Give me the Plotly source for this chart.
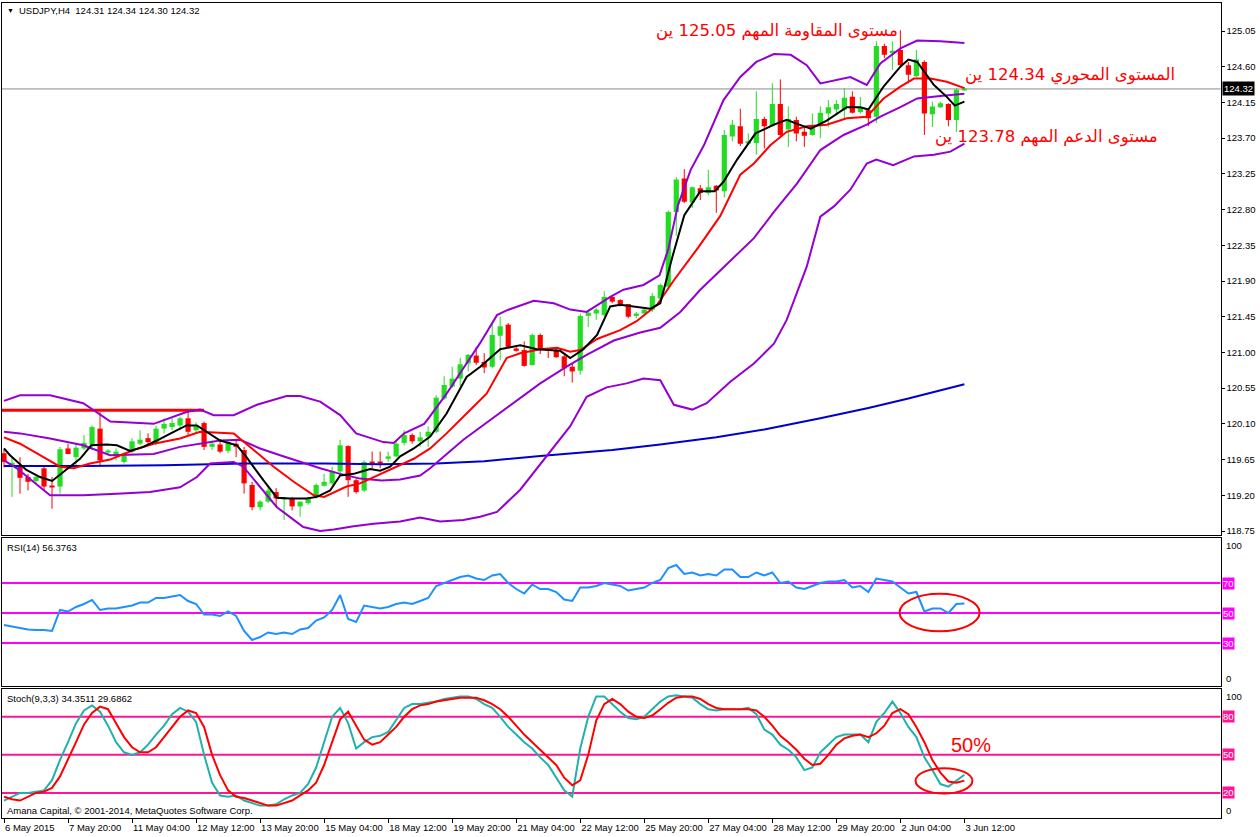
import plotly.graph_objects as go

# ---------------- data ----------------
bars = list(range(121))
opens = [119.73,119.58,119.58,119.43,119.38,119.54,119.32,119.31,119.79,119.68,
         119.79,119.84,120.04,119.75,119.69,119.62,119.75,119.85,119.92,119.85,
         120.04,120.06,120.08,120.17,120.02,120.11,119.81,119.84,119.76,119.85,
         119.77,119.33,119.05,119.12,119.24,119.15,119.16,119.06,119.10,119.18,
         119.32,119.35,119.50,119.82,119.39,119.26,119.62,119.62,119.66,119.69,
         119.86,119.96,119.88,119.94,120.00,120.42,120.57,120.67,120.86,120.96,
         120.88,120.82,121.21,121.35,121.05,121.03,120.84,121.22,121.04,121.03,
         120.95,120.82,120.77,121.46,121.49,121.47,121.70,121.66,121.61,121.46,
         121.49,121.54,121.68,121.83,122.77,123.19,122.89,123.07,123.01,123.10,
         123.03,123.72,123.85,123.64,123.64,123.94,123.85,124.13,123.81,123.93,
         123.78,123.74,123.85,124.01,124.06,124.06,124.22,124.03,124.05,123.97,
         124.86,124.77,124.81,124.62,124.48,124.66,124.00,124.09,124.13,123.93,
         124.31]
highs = [119.78,119.68,119.68,119.47,119.45,119.56,119.43,119.81,119.85,119.85,
         119.96,120.08,120.25,119.78,119.79,119.74,119.92,120.02,119.98,120.08,
         120.17,120.17,120.19,120.27,120.12,120.13,119.89,119.89,119.89,119.89,
         119.81,119.37,119.14,119.31,119.29,119.18,119.18,119.12,119.18,119.35,
         119.47,119.56,119.90,119.83,119.41,119.64,119.75,119.75,119.75,119.89,
         120.02,119.98,120.00,120.07,120.46,120.70,120.82,120.93,120.98,121.07,
         120.99,121.37,121.45,121.37,121.09,121.14,121.24,121.24,121.05,121.05,
         120.97,120.86,121.49,121.54,121.56,121.77,121.72,121.67,121.61,121.51,
         121.56,121.75,121.87,122.79,123.21,123.31,123.09,123.11,123.30,123.11,
         123.80,123.93,124.07,123.76,124.29,123.97,124.39,124.44,124.10,123.97,
         123.84,124.01,124.10,124.18,124.18,124.33,124.29,124.22,124.08,124.92,
         124.89,124.92,125.06,124.66,124.81,124.68,124.16,124.16,124.14,124.33,
         124.34]
lows = [119.55,119.18,119.22,119.26,119.35,119.26,119.03,119.22,119.72,119.58,
        119.77,119.77,119.58,119.72,119.64,119.60,119.73,119.83,119.83,119.83,
        119.98,120.02,120.02,119.96,119.98,119.77,119.77,119.73,119.73,119.68,
        119.22,119.01,119.01,119.10,119.05,118.89,119.01,118.93,119.08,119.16,
        119.31,119.33,119.45,119.18,119.22,119.24,119.54,119.54,119.62,119.68,
        119.83,119.85,119.81,119.81,119.98,120.40,120.55,120.57,120.76,120.84,
        120.74,120.80,120.90,121.05,121.01,120.82,120.84,120.98,120.93,120.93,
        120.70,120.62,120.72,121.32,121.41,121.45,121.62,121.58,121.43,121.43,
        121.48,121.51,121.66,121.79,122.47,122.88,122.82,122.92,122.98,122.76,
        122.95,123.66,123.60,123.63,123.49,123.57,123.85,123.72,123.59,123.66,
        123.59,123.73,123.70,123.84,123.99,123.95,124.01,124.01,123.85,123.89,
        124.71,124.56,124.60,124.39,124.47,123.74,123.84,124.08,123.85,123.78,
        124.30]
closes = [119.62,119.61,119.42,119.37,119.43,119.31,119.31,119.78,119.72,119.80,
          119.86,120.06,119.64,119.76,119.75,119.73,119.88,119.90,119.87,120.04,
          120.10,120.11,120.17,120.00,120.07,119.81,119.85,119.75,119.87,119.81,
          119.35,119.05,119.12,119.26,119.16,119.17,119.06,119.12,119.16,119.33,
          119.37,119.50,119.83,119.39,119.24,119.62,119.61,119.61,119.69,119.85,
          119.96,119.88,119.93,120.00,120.43,120.59,120.67,120.85,120.97,120.87,
          120.81,121.22,121.33,121.07,121.02,120.83,121.22,121.04,121.03,120.94,
          120.80,120.76,121.46,121.50,121.54,121.70,121.64,121.60,121.45,121.49,
          121.54,121.71,121.85,122.77,123.18,122.90,123.08,123.01,123.08,123.04,
          123.74,123.87,123.63,123.66,123.94,123.85,124.13,123.74,123.94,123.76,
          123.73,123.85,124.02,124.09,124.13,124.21,124.02,124.09,123.95,124.86,
          124.75,124.80,124.62,124.50,124.69,124.01,124.10,124.14,123.93,124.31,
          124.32]

# indicator lines on the price chart (bar position, value)
bb_upper_x = [0,2,5.75,9.9,13.3,18.7,22.8,24.5,26.2,28.7,31.6,35.3,37,39.5,42,44,47.4,48.7,50,52.5,53.2,
              55.3,57,59.5,61.6,62.8,66.2,68.7,70.75,72.8,75.75,77.4,79.9,81.9,83,84.2,85.8,87.5,89.9,
              92,94,96.2,98.3,100.3,102,103.7,105.75,107.8,109.5,112,114.1,117,120]
bb_upper_y = [120.39,120.46,120.46,120.36,120.13,120.10,120.25,120.28,120.21,120.21,120.34,120.45,120.45,
              120.38,120.21,119.98,119.87,119.86,119.98,120.10,120.19,120.48,120.74,121.12,121.47,121.53,
              121.65,121.62,121.54,121.51,121.70,121.79,121.85,121.97,122.30,122.85,123.30,123.62,124.18,
              124.47,124.66,124.76,124.75,124.62,124.39,124.43,124.47,124.37,124.64,124.83,124.93,124.92,124.90]
bb_mid_x = [0,2,5.75,9.9,13.25,18.7,22,24.5,27,29.5,32,34.5,37,39.5,42,44.5,47.2,49.5,52,53.25,57.4,
            60.75,63.7,67,70.3,72.8,76.2,79.5,82,84.5,87,90.75,93.7,96.2,99.1,102,104.9,107.8,109.5,
            112,114.1,117,120]
bb_mid_y = [120.00,119.98,119.915,119.83,119.705,119.72,119.81,119.85,119.89,119.90,119.79,119.705,
            119.62,119.54,119.47,119.41,119.385,119.40,119.45,119.54,119.90,120.15,120.36,120.61,120.82,
            120.97,121.15,121.25,121.31,121.51,121.79,122.16,122.44,122.77,123.13,123.55,123.74,123.87,
            123.97,124.09,124.20,124.23,124.26]
bb_lower_x = [0,1.6,5.75,9.9,14.1,18.25,22,24.1,25.75,28.7,29.9,32,34.1,36.2,37.4,39.5,41.2,43.7,46.2,
              49.5,52,54.5,57.4,59.5,61.6,64.5,67.8,70.75,72.8,75.3,77.8,79.9,82,83.7,86,87.8,90.75,
              93.7,96.2,97.8,100.3,102,103.7,105.75,107.8,109,111.1,113.7,116.2,118.25,120]
bb_lower_y = [119.64,119.54,119.20,119.20,119.22,119.24,119.30,119.43,119.60,119.62,119.56,119.31,119.05,
              118.89,118.80,118.75,118.77,118.81,118.84,118.87,118.92,118.87,118.89,118.93,118.99,119.27,
              119.69,120.07,120.44,120.56,120.61,120.67,120.65,120.34,120.28,120.36,120.63,120.86,121.11,
              121.41,122.08,122.71,122.84,123.05,123.38,123.43,123.36,123.47,123.49,123.53,123.63]
ma_red_x = [0,2,4.5,7,8.7,10.75,13.25,16.2,18.7,22,24.5,27,28.7,31.2,33.7,36.2,38.7,40,41.2,42.8,44.5,
            46.2,48.7,51.2,53.25,55.3,57.8,60.3,62.8,64.5,67,69.1,70.75,72,74.1,77,79,81.6,83.7,86.8,
            89.5,92,93.7,95.75,97.8,100.3,102.8,105.3,107.8,109.9,112,113.7,115.75,117.8,120]
ma_red_y = [119.93,119.85,119.705,119.56,119.54,119.60,119.65,119.77,119.85,119.915,120.00,119.99,119.98,
            119.77,119.56,119.37,119.20,119.18,119.24,119.31,119.35,119.43,119.55,119.66,119.79,119.98,
            120.23,120.48,120.93,120.99,121.04,121.06,121.01,121.03,121.17,121.28,121.39,121.60,121.91,
            122.33,122.72,123.24,123.38,123.61,123.78,123.85,123.87,123.95,123.97,124.20,124.35,124.45,
            124.45,124.41,124.33]
ma_black_x = [0,0.75,2.8,4.5,6,7.8,9.5,10.9,12.8,14.1,15.75,17.4,19.1,21.2,22.8,24.1,25.3,27,29.1,30.3,
              32.4,34.1,35.75,37.8,39.1,40.75,42,43.7,45,45.75,47,48.25,49.5,51.2,53.25,55.3,57.8,59.5,
              62,64.5,66.6,69.5,70.75,72.4,74.1,75.75,77,79,80.75,82,83.5,85,87,88.8,89.9,91.6,93.9,
              96.2,97.8,99.1,100.8,102.8,105.3,107,108,109.9,112,113,114.1,116.2,117.8,118.8,120]
ma_black_y = [119.79,119.705,119.52,119.43,119.38,119.52,119.66,119.83,119.84,119.83,119.76,119.81,119.89,
              120.00,120.08,120.08,120.00,119.89,119.83,119.68,119.39,119.17,119.16,119.16,119.18,119.26,
              119.45,119.47,119.51,119.53,119.51,119.56,119.69,119.79,119.94,120.23,120.69,120.82,121.04,
              121.09,121.04,121.02,120.93,121.04,121.22,121.58,121.60,121.57,121.55,121.62,122.20,122.73,
              123.03,123.03,123.15,123.43,123.76,123.87,123.93,123.88,123.82,123.92,124.09,124.09,124.06,
              124.35,124.60,124.69,124.66,124.37,124.22,124.11,124.16]
ma_blue_x = [0,10,20,30,40,47,54,60,67,76,82,89,95,102,108,113,120]
ma_blue_y = [119.57,119.57,119.58,119.60,119.60,119.59,119.60,119.63,119.695,119.77,119.84,119.93,
             120.03,120.17,120.30,120.42,120.60]
hline_level = 120.27
hline_bars = [-0.25, 25.0]

rsi = [42,41,40,39,38.7,38.7,38,52,51,54,56,58.7,52,53,53,54,55,57,57,60,
       60,61,62,58,56,49,49,48,51,48,38,32,34,37,36,37,36,39,40,45,
       47,52,62,46,44,55,54,53,54,56,57,56,58,60,68,70,72,74,75,73,
       72,75,76,70,66,63,69,66,66,64,59,58,67,67,68,70,69,68,65,66,
       67,70,72,80,82,76,77,75,76,75,79,79,74,74,77,75,77,70,71,67,
       66,68,70,71,71,72,67,68,64,73,72,71,67,63,64,51,53,53,50,56,56.38]
stoch_k = [14,17,20,20,21,22,30,46,60,75,85,89,84,73,60,52,50,52,58,66,
           73,82,87,84,76,50,28,18,17,18,14,12,10,10,11,15,18,20,27,40,
           60,80,87,75,55,60,64,65,68,78,87,90,90,91,92,94,95,96,96,94,
           90,87,80,72,66,60,55,48,42,32,22,17,55,80,96,96,90,84,79,78,
           80,86,92,96,97,96,95,90,86,85,86,86,86,87,82,70,66,58,54,48,
           38,40,52,58,64,66,66,66,60,76,83,92,83,72,64,48,38,27,25,30,34.35]
stoch_d = [17,15,14,17,20,21,24,33,46,60,74,83,88,86,75,64,56,52,52,56,
           64,72,80,85,83,72,50,34,22,17,16,14,12,10,10,12,14,18,22,28,
           42,60,78,84,73,62,58,60,66,72,80,86,89,90,92,93,94,95,95,95,
           93,90,86,80,73,66,60,54,48,42,32,26,30,50,77,90,94,90,84,80,
           79,81,86,91,95,96,96,94,90,87,86,86,86,86,85,80,73,65,60,54,
           47,42,43,50,58,63,65,66,64,67,73,83,86,82,72,60,46,36,29,28,29.69]
rsi_levels = [70, 50, 30]
stoch_levels = [80, 50, 20]
scale_labels = [100, 0]

price_ticks = [118.75,119.20,119.65,120.10,120.55,121.00,121.45,121.90,122.35,
               122.80,123.25,123.70,124.15,124.60,125.05]
date_tick_bars = [0,8,16,24,32,40,48,56,64,72,80,88,96,104,112,120]
date_tick_labels = ["6 May 2015","7 May 20:00","11 May 04:00","12 May 12:00","13 May 20:00",
                    "15 May 04:00","18 May 12:00","19 May 20:00","21 May 04:00","22 May 12:00",
                    "25 May 20:00","27 May 04:00","28 May 12:00","29 May 20:00","2 Jun 04:00",
                    "3 Jun 12:00"]
header_text = "USDJPY,H4  124.31 124.34 124.30 124.32"
rsi_text = "RSI(14) 56.3763"
stoch_text = "Stoch(9,3,3) 34.3511 29.6862"
copyright_text = "Amana Capital, © 2001-2014, MetaQuotes Software Corp."
notes = ["مستوى المقاومة المهم 125.05 ين",
         "المستوى المحوري 124.34 ين",
         "مستوى الدعم المهم 123.78 ين"]
note_stoch = "50%"
rsi_ellipse = dict(x0=111.9, x1=121.9, y0=37.8, y1=62.8)
stoch_ellipse = dict(x0=113.9, x1=121.0, y0=19.5, y1=39.5)

# ---------------- styling ----------------
W, H = 1260, 837
GREEN = "#22DD22"
RED = "#FF0000"
PURPLE = "#9400D3"
MAGENTA = "#FF00FF"
PINK = "#FF1493"
FONT = "Liberation Sans, DejaVu Sans, sans-serif"
AFONT = "DejaVu Sans"
XDOM = [2 / W, 1220.5 / W]


def pdom(top_px, bot_px):
    return [1 - bot_px / H, 1 - top_px / H]


fig = go.Figure()

up = [i for i in bars if closes[i] >= opens[i]]
dn = [i for i in bars if closes[i] < opens[i]]


def wick(idx):
    xs, ys = [], []
    for i in idx:
        xs += [i, i, None]
        ys += [lows[i], highs[i], None]
    return xs, ys


for idx, col in ((up, GREEN), (dn, RED)):
    wx, wy = wick(idx)
    fig.add_trace(go.Scatter(x=wx, y=wy, mode="lines", line=dict(color=col, width=1),
                             xaxis="x", yaxis="y", hoverinfo="skip"))
    fig.add_trace(go.Bar(x=idx,
                         y=[max(abs(closes[i] - opens[i]), 0.008) for i in idx],
                         base=[min(opens[i], closes[i]) for i in idx],
                         width=0.65, marker=dict(color=col, line=dict(width=0)),
                         xaxis="x", yaxis="y"))

fig.add_trace(go.Scatter(x=hline_bars, y=[hline_level, hline_level], mode="lines",
                         line=dict(color=RED, width=3), xaxis="x", yaxis="y"))
fig.add_trace(go.Scatter(x=ma_blue_x, y=ma_blue_y, mode="lines",
                         line=dict(color="#0000CD", width=2), xaxis="x", yaxis="y"))
for xs, ys in ((bb_upper_x, bb_upper_y), (bb_mid_x, bb_mid_y), (bb_lower_x, bb_lower_y)):
    fig.add_trace(go.Scatter(x=xs, y=ys, mode="lines", line=dict(color=PURPLE, width=2),
                             xaxis="x", yaxis="y"))
fig.add_trace(go.Scatter(x=ma_red_x, y=ma_red_y, mode="lines", line=dict(color=RED, width=2),
                         xaxis="x", yaxis="y"))
fig.add_trace(go.Scatter(x=ma_black_x, y=ma_black_y, mode="lines",
                         line=dict(color="#000000", width=2), xaxis="x", yaxis="y"))

fig.add_trace(go.Scatter(x=bars, y=rsi, mode="lines", line=dict(color="#1E90FF", width=2),
                         xaxis="x2", yaxis="y2"))
fig.add_trace(go.Scatter(x=bars, y=stoch_k, mode="lines", line=dict(color="#20B2AA", width=2),
                         xaxis="x3", yaxis="y3"))
fig.add_trace(go.Scatter(x=bars, y=stoch_d, mode="lines", line=dict(color=RED, width=2),
                         xaxis="x3", yaxis="y3"))

shapes = []
annotations = []


def label(text, x_px, y, yref="paper", xanchor="left", yanchor="middle", size=9.5,
          color="black", family=FONT, **kw):
    annotations.append(dict(text=text, xref="paper", x=x_px / W, xanchor=xanchor, yref=yref,
                            y=(1 - y / H) if yref == "paper" else y, yanchor=yanchor,
                            showarrow=False, font=dict(color=color, size=size, family=family), **kw))


shapes.append(dict(type="line", xref="x domain", x0=0, x1=1, yref="y", y0=closes[-1], y1=closes[-1],
                   line=dict(color="#8C8C8C", width=1), layer="below"))
for v in rsi_levels:
    shapes.append(dict(type="line", xref="x2 domain", x0=0, x1=1, yref="y2", y0=v, y1=v,
                       line=dict(color=MAGENTA, width=2), layer="below"))
    label(str(v), 1222, v, yref="y2", color="white", bgcolor=MAGENTA, borderpad=0)
for v in stoch_levels:
    shapes.append(dict(type="line", xref="x3 domain", x0=0, x1=1, yref="y3", y0=v, y1=v,
                       line=dict(color=PINK, width=2), layer="below"))
    label(str(v), 1222, v, yref="y3", color="white", bgcolor=PINK, borderpad=0)
for yref in ("y2", "y3"):
    for v, anc in zip(scale_labels, ("top", "bottom")):
        label(str(v), 1224, v / 100, yref=yref + " domain", yanchor=anc)

shapes.append(dict(type="circle", xref="x2", yref="y2", line=dict(color=RED, width=2), **rsi_ellipse))
shapes.append(dict(type="circle", xref="x3", yref="y3", line=dict(color=RED, width=2), **stoch_ellipse))

label(f"{closes[-1]:.2f}", 1222, closes[-1], yref="y", color="white", bgcolor="black", borderpad=1)
label("▼", 5, 11, size=7)
label(header_text, 17, 11)
label(rsi_text, 5, 547)
label(stoch_text, 5, 698)
label(copyright_text, 5, 810)

# notes: right edge (px) and vertical centre (px)
note_pos = [(900, 31), (1177, 75), (1160, 137)]
for txt, (xr, yc) in zip(notes, note_pos):
    label(txt, xr, yc, xanchor="right", size=16.5, color=RED, family=AFONT)
label(note_stoch, 971, 745, xanchor="center", size=20, color=RED)

axis_common = dict(showline=True, mirror=True, linecolor="black", linewidth=1, showgrid=False,
                   zeroline=False, automargin=False)
fig.update_layout(
    width=W, height=H, margin=dict(l=0, r=0, t=0, b=0, autoexpand=False),
    paper_bgcolor="white", plot_bgcolor="white", showlegend=False, barmode="overlay",
    font=dict(family=FONT, size=9.5, color="black"),
    xaxis=dict(domain=XDOM, range=[-0.25, 152], anchor="y", showticklabels=False, ticks="",
               **axis_common),
    xaxis2=dict(domain=XDOM, matches="x", anchor="y2", showticklabels=False, ticks="", **axis_common),
    xaxis3=dict(domain=XDOM, matches="x", anchor="y3", tickmode="array", tickvals=date_tick_bars,
                ticktext=date_tick_labels, ticks="outside", ticklen=4, tickcolor="black",
                tickangle=0, ticklabelposition="outside right",
                tickfont=dict(size=9.5, family=FONT), **axis_common),
    yaxis=dict(domain=pdom(2.5, 535), range=[118.6996, 125.4091], anchor="x", side="right",
               tickmode="array", tickvals=price_ticks, ticktext=[f"{v:.2f}" for v in price_ticks],
               ticks="outside", ticklen=3, tickcolor="black", tickfont=dict(size=9.5, family=FONT),
               **axis_common),
    yaxis2=dict(domain=pdom(538, 686), range=[1.33, 100], anchor="x2", side="right",
                showticklabels=False, ticks="", **axis_common),
    yaxis3=dict(domain=pdom(689, 818.3), range=[0, 101.9], anchor="x3", side="right",
                showticklabels=False, ticks="", **axis_common),
    shapes=shapes, annotations=annotations,
)

fig.write_html("out.html")
